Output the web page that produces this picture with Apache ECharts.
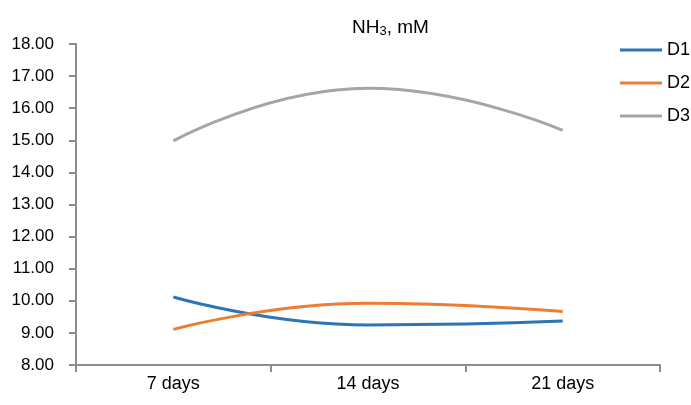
<!DOCTYPE html>
<html>
<head>
<meta charset="utf-8">
<script src="https://cdn.jsdelivr.net/npm/echarts@6/dist/echarts.min.js"></script>
<style>
html,body{margin:0;padding:0;background:#fff;}
#chart{width:691px;height:405px;}
</style>
</head>
<body>
<div id="chart"></div>
<script>
var categories = ['7 days', '14 days', '21 days'];
var seriesNames = ['D1', 'D2', 'D3'];
var d1 = [10.12, 9.25, 9.37];
var d2 = [9.11, 9.92, 9.67];
var d3 = [14.98, 16.62, 15.31];
var colors = ['#2E75B6', '#ED7D31', '#A5A5A5'];
var yTicks = [8, 18, 1];

var FONT = '"Liberation Sans", Arial, sans-serif';
var chart = echarts.init(document.getElementById('chart'), null, {renderer: 'canvas'});
var seriesData = [d1, d2, d3];
chart.setOption({
  animation: false,
  backgroundColor: '#ffffff',
  title: {
    text: 'NH{sub|3}, mM',
    left: 347,
    top: 12,
    textStyle: {
      fontFamily: FONT, fontSize: 19, fontWeight: 'normal', color: '#000',
      rich: { sub: { fontFamily: FONT, fontSize: 13, color: '#000', verticalAlign: 'bottom', padding: [8, 0, 0, 0] } }
    }
  },
  legend: {
    orient: 'vertical',
    left: 615,
    top: 35,
    itemWidth: 42,
    itemHeight: 3,
    itemGap: 13,
    icon: 'rect',
    data: seriesNames,
    textStyle: { fontFamily: FONT, fontSize: 18, color: '#000', lineHeight: 20 }
  },
  grid: { left: 76, right: 31, top: 44, bottom: 40, containLabel: false },
  xAxis: {
    type: 'category',
    data: categories,
    boundaryGap: true,
    axisLine: { lineStyle: { color: '#8c8c8c', width: 2 } },
    axisTick: { show: true, length: 7, lineStyle: { color: '#8c8c8c', width: 2 } },
    axisLabel: { fontFamily: FONT, fontSize: 18, color: '#000', margin: 10 },
    splitLine: { show: false }
  },
  yAxis: {
    type: 'value',
    min: yTicks[0], max: yTicks[1], interval: yTicks[2],
    axisLine: { show: true, lineStyle: { color: '#8c8c8c', width: 2 } },
    axisTick: { show: true, length: 7, lineStyle: { color: '#8c8c8c', width: 2 } },
    axisLabel: { fontFamily: FONT, fontSize: 17, color: '#000', margin: 22,
      formatter: function (v) { return v.toFixed(2); } },
    splitLine: { show: false }
  },
  series: seriesNames.map(function (n, i) {
    return {
      name: n, type: 'line', data: seriesData[i], smooth: 0.5,
      showSymbol: false, symbol: 'none',
      lineStyle: { color: colors[i], width: 3 },
      itemStyle: { color: colors[i] }
    };
  })
});
</script>
</body>
</html>
